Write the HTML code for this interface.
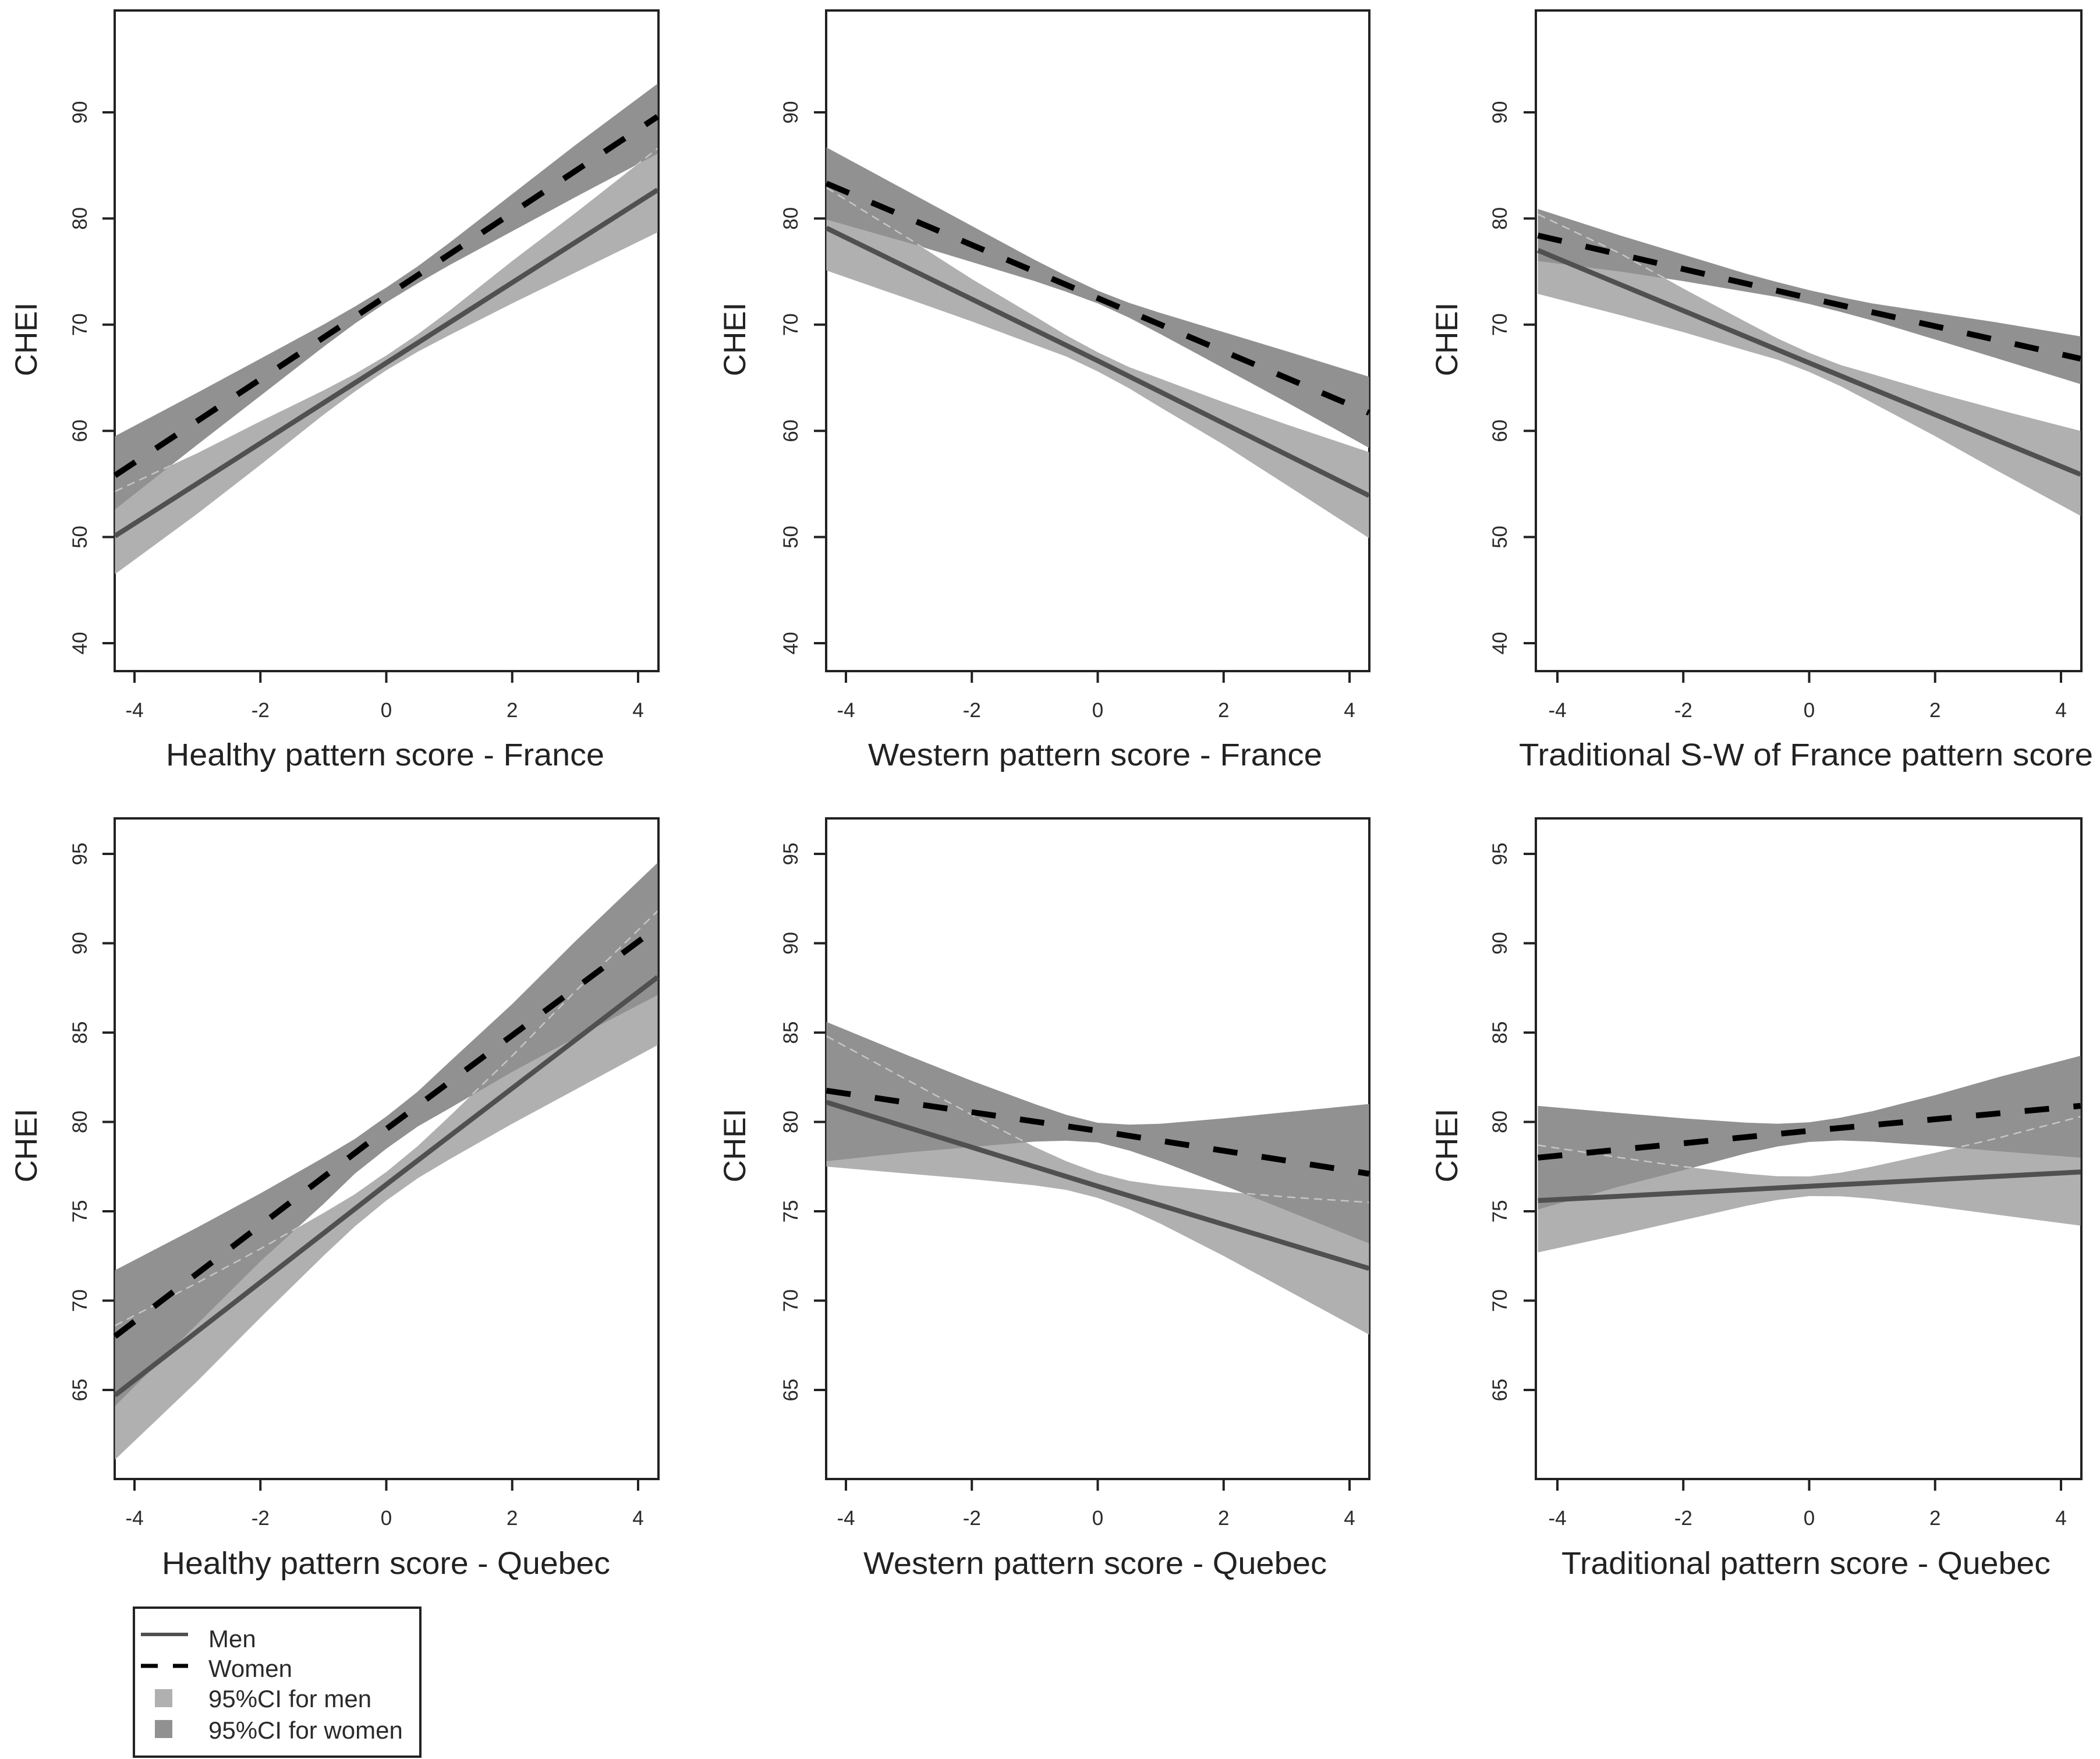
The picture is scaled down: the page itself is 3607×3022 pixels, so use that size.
<!DOCTYPE html>
<html lang="en">
<head>
<meta charset="utf-8">
<title>CHEI by dietary pattern score</title>
<style>
html,body{margin:0;padding:0;background:#fff;}
svg{display:block;font-family:"Liberation Sans",Arial,sans-serif;}
</style>
</head>
<body>
<svg id="chart" xmlns="http://www.w3.org/2000/svg" width="3607" height="3022" viewBox="0 0 3607 3022">
  <rect x="0" y="0" width="3607" height="3022" fill="#ffffff"/>
  <g id="panels"></g>
  <g>
    <rect x="230" y="2762" width="492" height="256" fill="#ffffff" stroke="#222222" stroke-width="4"/>
    <line x1="242" y1="2808" x2="323" y2="2808" stroke="#505050" stroke-width="6"/>
    <line x1="242" y1="2862" x2="271" y2="2862" stroke="#000000" stroke-width="7"/>
    <line x1="297" y1="2862" x2="323" y2="2862" stroke="#000000" stroke-width="7"/>
    <rect x="266" y="2902" width="30" height="31" fill="#b0b0b0"/>
    <rect x="266" y="2955" width="30" height="31" fill="#919191"/>
    <text x="358" y="2830" font-size="42" fill="#2a2a2a">Men</text>
    <text x="358" y="2881" font-size="42" fill="#2a2a2a">Women</text>
    <text x="358" y="2933" font-size="42" fill="#2a2a2a">95%CI for men</text>
    <text x="358" y="2987" font-size="42" fill="#2a2a2a">95%CI for women</text>
  </g>
</svg>
<script>
const bandScores = [-4.31, -3, -2, -1, -0.5, 0, 0.5, 1, 2, 3, 4.31];
const lineScores = [-4.31, 0, 4.31];
const xTickValues = [-4, -2, 0, 2, 4];
const yTicksFrance = [40, 50, 60, 70, 80, 90];
const yTicksQuebec = [65, 70, 75, 80, 85, 90, 95];

// Healthy pattern - France
const hfWomenMid = [55.8, 72.7, 89.6];
const hfWomenHi = [59.5, 63.6, 66.8, 70.0, 71.7, 73.5, 75.5, 77.7, 82.3, 86.9, 92.7];
const hfWomenLo = [52.6, 58.7, 63.3, 67.9, 70.1, 72.1, 73.9, 75.6, 78.8, 82.0, 86.1];
const hfMenMid = [50.1, 66.4, 82.7];
const hfMenHi = [54.3, 57.9, 60.9, 63.8, 65.35, 67.1, 69.1, 71.3, 76.0, 80.5, 86.6];
const hfMenLo = [46.5, 52.2, 56.8, 61.5, 63.7, 65.7, 67.45, 69.0, 72.0, 74.9, 78.7];

// Western pattern - France
const wfWomenMid = [83.3, 72.5, 61.7];
const wfWomenHi = [86.7, 82.5, 79.3, 76.1, 74.6, 73.2, 72.05, 71.1, 69.3, 67.5, 65.1];
const wfWomenLo = [79.9, 77.7, 75.9, 74.1, 73.1, 72.0, 70.65, 69.1, 65.9, 62.7, 58.4];
const wfMenMid = [79.1, 66.6, 53.9];
const wfMenHi = [82.9, 78.1, 74.3, 70.8, 69.0, 67.4, 66.0, 64.9, 62.7, 60.6, 58.0];
const wfMenLo = [75.1, 72.4, 70.3, 68.1, 67.0, 65.6, 64.0, 62.2, 58.7, 54.9, 49.9];

// Traditional S-W of France pattern
const tfWomenMid = [78.4, 72.5, 66.8];
const tfWomenHi = [80.9, 78.4, 76.6, 74.8, 74.0, 73.25, 72.6, 72.0, 71.1, 70.2, 68.9];
const tfWomenLo = [76.0, 75.0, 74.1, 73.1, 72.6, 71.95, 71.2, 70.4, 68.6, 66.8, 64.4];
const tfMenMid = [77.0, 66.4, 55.9];
const tfMenHi = [80.4, 76.7, 73.4, 70.25, 68.7, 67.35, 66.2, 65.35, 63.6, 62.0, 60.0];
const tfMenLo = [72.9, 70.9, 69.3, 67.55, 66.7, 65.55, 64.2, 62.65, 59.5, 56.2, 52.0];

// Healthy pattern - Quebec
const hqWomenMid = [68.0, 79.6, 90.9];
const hqWomenHi = [71.7, 74.1, 76.0, 78.0, 79.05, 80.3, 81.7, 83.35, 86.6, 90.1, 94.5];
const hqWomenLo = [64.1, 68.7, 72.2, 75.4, 77.1, 78.5, 79.75, 80.75, 82.8, 84.7, 87.1];
const hqMenMid = [64.7, 76.5, 88.1];
const hqMenHi = [68.6, 71.0, 72.9, 74.9, 75.95, 77.2, 78.65, 80.3, 83.7, 87.3, 91.8];
const hqMenLo = [61.1, 65.5, 69.05, 72.5, 74.15, 75.6, 76.85, 77.9, 79.9, 81.8, 84.3];

// Western pattern - Quebec
const wqWomenMid = [81.75, 79.5, 77.1];
const wqWomenHi = [85.6, 83.7, 82.3, 81.0, 80.4, 79.95, 79.85, 79.9, 80.2, 80.55, 81.0];
const wqWomenLo = [77.8, 78.3, 78.6, 78.9, 78.95, 78.85, 78.4, 77.8, 76.45, 75.05, 73.2];
const wqMenMid = [81.1, 76.4, 71.8];
const wqMenHi = [84.8, 82.3, 80.4, 78.6, 77.8, 77.15, 76.7, 76.45, 76.1, 75.8, 75.5];
const wqMenLo = [77.5, 77.1, 76.8, 76.45, 76.2, 75.75, 75.1, 74.3, 72.5, 70.6, 68.1];

// Traditional pattern - Quebec
const tqWomenMid = [78.0, 79.5, 80.9];
const tqWomenHi = [80.9, 80.5, 80.2, 79.96, 79.9, 79.98, 80.24, 80.6, 81.5, 82.5, 83.7];
const tqWomenLo = [75.1, 76.4, 77.3, 78.24, 78.63, 78.88, 78.96, 78.9, 78.66, 78.36, 78.0];
const tqMenMid = [75.6, 76.4, 77.2];
const tqMenHi = [78.7, 78.0, 77.5, 77.1, 76.96, 76.95, 77.16, 77.5, 78.27, 79.1, 80.3];
const tqMenLo = [72.7, 73.7, 74.5, 75.3, 75.64, 75.85, 75.84, 75.7, 75.27, 74.8, 74.2];

const panels = [
  {id:'healthy-france', title:'Healthy pattern score - France', col:0, row:0, wm:hfWomenMid, wh:hfWomenHi, wl:hfWomenLo, mm:hfMenMid, mh:hfMenHi, ml:hfMenLo, tl:[285,1038]},
  {id:'western-france', title:'Western pattern score - France', col:1, row:0, wm:wfWomenMid, wh:wfWomenHi, wl:wfWomenLo, mm:wfMenMid, mh:wfMenHi, ml:wfMenLo, tl:[1491,2271]},
  {id:'traditional-france', title:'Traditional S-W of France pattern score', col:2, row:0, wm:tfWomenMid, wh:tfWomenHi, wl:tfWomenLo, mm:tfMenMid, mh:tfMenHi, ml:tfMenLo, tl:[2609,3595]},
  {id:'healthy-quebec', title:'Healthy pattern score - Quebec', col:0, row:1, wm:hqWomenMid, wh:hqWomenHi, wl:hqWomenLo, mm:hqMenMid, mh:hqMenHi, ml:hqMenLo, tl:[278,1048]},
  {id:'western-quebec', title:'Western pattern score - Quebec', col:1, row:1, wm:wqWomenMid, wh:wqWomenHi, wl:wqWomenLo, mm:wqMenMid, mh:wqMenHi, ml:wqMenLo, tl:[1483,2279]},
  {id:'traditional-quebec', title:'Traditional pattern score - Quebec', col:2, row:1, wm:tqWomenMid, wh:tqWomenHi, wl:tqWomenLo, mm:tqMenMid, mh:tqMenHi, ml:tqMenLo, tl:[2682,3522]}
];

// Layout (pixels)
const columns = [
  {left:197, right:1131, xNeg4:231, xPos4:1096, yTickLabel:137, yTitle:44},
  {left:1419, right:2352, xNeg4:1453, xPos4:2318, yTickLabel:1358, yTitle:1261},
  {left:2638, right:3575, xNeg4:2675, xPos4:3540, yTickLabel:2576, yTitle:2484}
];
const rows = [
  {top:18, bottom:1153, ticks:yTicksFrance, vA:40, pA:1105, vB:90, pB:193, tickLabel:1232, title:1315, yTitleMid:583},
  {top:1406, bottom:2541, ticks:yTicksQuebec, vA:65, pA:2388, vB:95, pB:1467, tickLabel:2620, title:2704, yTitleMid:1968}
];

const NS = 'http://www.w3.org/2000/svg';
const root = document.getElementById('panels');

function make(tag, attrs, parent) {
  const el = document.createElementNS(NS, tag);
  for (const k in attrs) el.setAttribute(k, attrs[k]);
  parent.appendChild(el);
  return el;
}
function pts(xs, ys, sx, sy) {
  return xs.map((x, i) => sx(x).toFixed(1) + ',' + sy(ys[i]).toFixed(1));
}

panels.forEach(function (p) {
  const c = columns[p.col];
  const r = rows[p.row];
  const sx = v => c.xNeg4 + (v + 4) * (c.xPos4 - c.xNeg4) / 8;
  const sy = v => r.pA + (v - r.vA) * (r.pB - r.pA) / (r.vB - r.vA);
  const clampX = v => Math.min(c.right, Math.max(c.left, sx(v)));

  const g = make('g', {}, root);
  
  

  // frame, drawn first because the bands cover it at the edges
  const frame = make('rect', {x:c.left, y:r.top, width:c.right - c.left, height:r.bottom - r.top, fill:'#fff', stroke:'#222', 'stroke-width':4}, g);
  
  

  // men band
  const menPoly = pts(bandScores, p.mh, clampX, sy).concat(pts(bandScores, p.ml, clampX, sy).reverse()).join(' ');
  const menBand = make('polygon', {points:menPoly, fill:'#b0b0b0'}, g);
  
  

  // women band
  const womenPoly = pts(bandScores, p.wh, clampX, sy).concat(pts(bandScores, p.wl, clampX, sy).reverse()).join(' ');
  const womenBand = make('polygon', {points:womenPoly, fill:'#919191'}, g);
  
  

  // faint outline of the men's upper limit where it runs inside the women's band
  const clip = make('clipPath', {id:'clip-' + p.id}, g);
  make('polygon', {points:womenPoly}, clip);
  const menEdge = make('polyline', {points:pts(bandScores, p.mh, clampX, sy).join(' '), fill:'none', stroke:'#c6c6c6', 'stroke-width':2.5, 'stroke-dasharray':'14 9', 'clip-path':'url(#clip-' + p.id + ')'}, g);
  
  

  // men line
  const menLine = make('polyline', {points:pts(lineScores, p.mm, clampX, sy).join(' '), fill:'none', stroke:'#505050', 'stroke-width':8.5}, g);
  
  

  // women line
  const womenLine = make('polyline', {points:pts(lineScores, p.wm, clampX, sy).join(' '), fill:'none', stroke:'#000', 'stroke-width':10, 'stroke-dasharray':'42 42'}, g);
  
  

  // x axis
  xTickValues.forEach(function (v) {
    const tick = make('line', {x1:sx(v), x2:sx(v), y1:r.bottom, y2:r.bottom + 20, stroke:'#222', 'stroke-width':4}, g);
    
    
    const lab = make('text', {x:sx(v), y:r.tickLabel, 'font-size':35, 'text-anchor':'middle', fill:'#2a2a2a'}, g);
    
    
    lab.textContent = v;
  });

  // y axis
  r.ticks.forEach(function (v) {
    const tick = make('line', {x1:c.left - 21, x2:c.left, y1:sy(v), y2:sy(v), stroke:'#222', 'stroke-width':4}, g);
    
    
    const lab = make('text', {x:0, y:0, 'font-size':35, 'text-anchor':'middle', fill:'#2a2a2a', transform:'translate(' + (c.yTickLabel + 12) + ',' + sy(v) + ') rotate(-90)'}, g);
    
    
    lab.textContent = v;
  });

  // axis titles
  const xTitle = make('text', {x:p.tl[0], y:r.title, 'font-size':54, fill:'#222', textLength:p.tl[1] - p.tl[0], lengthAdjust:'spacingAndGlyphs'}, g);
  
  
  xTitle.textContent = p.title;

  const yTitle = make('text', {x:0, y:0, 'font-size':53, 'text-anchor':'middle', fill:'#222', transform:'translate(' + (c.yTitle + 19) + ',' + r.yTitleMid + ') rotate(-90)'}, g);
  
  
  yTitle.textContent = 'CHEI';
});
</script>
</body>
</html>
